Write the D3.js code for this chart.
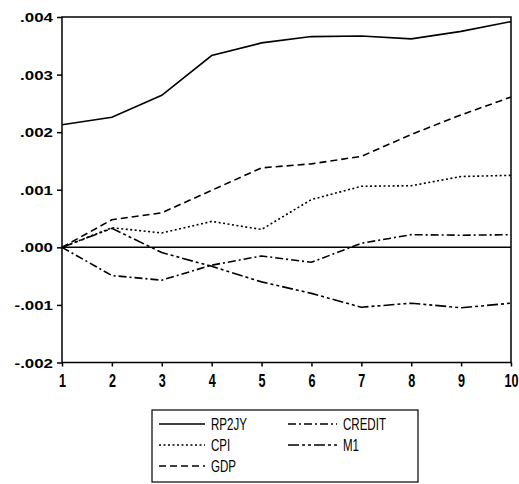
<!DOCTYPE html>
<html>
<head>
<meta charset="utf-8">
<script src="https://cdn.jsdelivr.net/npm/d3@7"></script>
<style>
  body { margin: 0; background: #fff; }
  text { font-family: "Liberation Sans", Arial, sans-serif; fill: #000; }
</style>
</head>
<body>
<div id="chart"></div>
<script>
// data (impulse responses, periods 1..10)
var periods = [1, 2, 3, 4, 5, 6, 7, 8, 9, 10];
var rp2jy  = [0.00213, 0.00226, 0.00264, 0.00333, 0.00355, 0.00366, 0.00367, 0.00362, 0.00375, 0.00392];
var cpi    = [0, 0.00034, 0.00025, 0.00045, 0.00031, 0.00083, 0.00106, 0.00107, 0.00123, 0.00125];
var gdp    = [0, 0.00048, 0.00060, 0.00099, 0.00138, 0.00145, 0.00158, 0.00196, 0.00230, 0.00261];
var credit = [0, -0.00049, -0.00057, -0.00031, -0.00015, -0.00026, 0.00007, 0.00022, 0.00021, 0.00022];
var m1     = [0, 0.00033, -0.00009, -0.00033, -0.00060, -0.00080, -0.00104, -0.00097, -0.00105, -0.00097];
var yTicks = [-0.002, -0.001, 0, 0.001, 0.002, 0.003, 0.004];
var yTickLabels = ["-.002", "-.001", ".000", ".001", ".002", ".003", ".004"];
var seriesNames = ["RP2JY", "CPI", "GDP", "CREDIT", "M1"];

var series = [
  {name: "RP2JY",  values: rp2jy,  dash: null},
  {name: "CPI",    values: cpi,    dash: "2,2.5"},
  {name: "GDP",    values: gdp,    dash: "7,4"},
  {name: "CREDIT", values: credit, dash: "8,3,2,3"},
  {name: "M1",     values: m1,     dash: "11,3,3,3,3,3"}
];

var W = 519, H = 484;
var plotL = 62, plotR = 511, plotT = 17, plotB = 362.5;

var svg = d3.select("#chart").append("svg")
    .attr("width", W)
    .attr("height", H);

var x = d3.scaleLinear().domain([1, 10]).range([plotL, plotR]);
var y = d3.scaleLinear().domain([-0.002, 0.004]).range([plotB, plotT]);

// y axis
var yAxis = svg.append("g")
    .attr("transform", "translate(" + plotL + ",0)")
    .call(d3.axisLeft(y).tickValues(yTicks).tickSize(5).tickSizeOuter(0)
      .tickFormat(function(d, i) { return yTickLabels[i]; }));
yAxis.select(".domain").remove();
yAxis.selectAll("line").attr("stroke", "#000").attr("stroke-width", 1.5);
yAxis.selectAll("text")
    .attr("x", null).attr("dy", null)
    .attr("font-size", 13).attr("font-weight", "bold")
    .attr("text-anchor", "end")
    .attr("transform", "translate(-9,4.5) scale(1.3,1)");

// x axis
var xAxis = svg.append("g")
    .attr("transform", "translate(0," + plotB + ")")
    .call(d3.axisBottom(x).tickValues(periods).tickSize(4).tickSizeOuter(0)
      .tickFormat(d3.format("d")));
xAxis.select(".domain").remove();
xAxis.selectAll("line").attr("stroke", "#000").attr("stroke-width", 1.5);
xAxis.selectAll("text")
    .attr("y", null).attr("dy", null)
    .attr("font-size", 18).attr("font-weight", "bold")
    .attr("text-anchor", "middle")
    .attr("transform", "translate(0,24) scale(0.7,1)");

// frame
svg.append("rect")
    .attr("x", plotL).attr("y", plotT)
    .attr("width", plotR - plotL).attr("height", plotB - plotT)
    .attr("fill", "none").attr("stroke", "#000").attr("stroke-width", 1.5);

// zero line
svg.append("line")
    .attr("x1", plotL).attr("x2", plotR)
    .attr("y1", y(0)).attr("y2", y(0))
    .attr("stroke", "#000").attr("stroke-width", 1.5);

var line = d3.line()
    .x(function(d, i) { return x(periods[i]); })
    .y(function(d) { return y(d); });

svg.selectAll(".series")
    .data(series)
    .enter()
    .append("path")
    .attr("class", "series")
    .attr("d", function(d) { return line(d.values); })
    .attr("fill", "none")
    .attr("stroke", "#000")
    .attr("stroke-width", 1.6)
    .attr("stroke-dasharray", function(d) { return d.dash; });

// legend
var lg = svg.append("g");
lg.append("rect")
    .attr("x", 152).attr("y", 410)
    .attr("width", 266).attr("height", 72)
    .attr("fill", "none").attr("stroke", "#000").attr("stroke-width", 1.2);

var slots = [
  {lx: 159, ty: 424}, {lx: 159, ty: 445}, {lx: 159, ty: 466},
  {lx: 288, ty: 424}, {lx: 288, ty: 445}
];

series.forEach(function(s, i) {
  var p = slots[i];
  var len = i < 3 ? 46 : 49;
  lg.append("line")
    .attr("x1", p.lx).attr("x2", p.lx + len)
    .attr("y1", p.ty).attr("y2", p.ty)
    .attr("stroke", "#000").attr("stroke-width", 1.5)
    .attr("stroke-dasharray", s.dash);
  lg.append("text")
    .attr("transform", "translate(" + (p.lx + len + 6) + "," + (p.ty + 6) + ") scale(0.68,1)")
    .attr("font-size", 17)
    .text(seriesNames[i]);
});
</script>
</body>
</html>
